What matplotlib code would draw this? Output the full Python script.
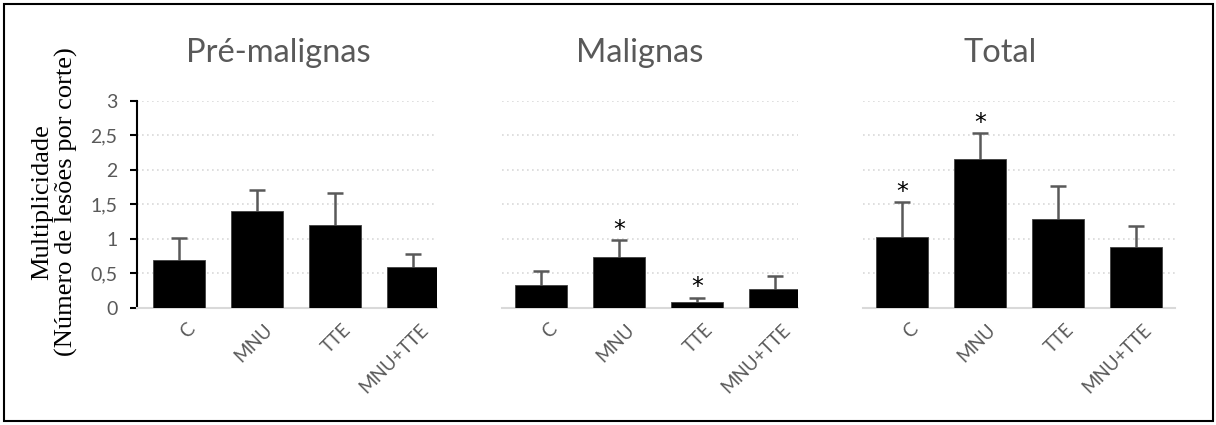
import matplotlib
matplotlib.use("Agg")
import matplotlib.pyplot as plt
import numpy as np
from matplotlib.patches import Rectangle
from matplotlib.transforms import ScaledTranslation

groups = ["C", "MNU", "TTE", "MNU+TTE"]
panel_titles = ["Pré-malignas", "Malignas", "Total"]

pre_mean = [0.70, 1.41, 1.20, 0.59]
pre_err = [0.32, 0.30, 0.47, 0.19]
mal_mean = [0.33, 0.74, 0.08, 0.28]
mal_err = [0.20, 0.24, 0.07, 0.19]
tot_mean = [1.03, 2.16, 1.29, 0.88]
tot_err = [0.50, 0.37, 0.48, 0.30]

pre_star = [False, False, False, False]
mal_star = [False, True, True, False]
tot_star = [True, True, False, False]

y_ticks = [0, 0.5, 1, 1.5, 2, 2.5, 3]
y_tick_labels = ["0", "0,5", "1", "1,5", "2", "2,5", "3"]

GREY = "#595959"
LIGHT = "#d9d9d9"
SANS = ["Lato", "DejaVu Sans"]

W, H = 1216, 425
fig = plt.figure(figsize=(W / 100, H / 100), dpi=100)

# axes boxes in pixels (left, right) plus x limits in category units
boxes = [(137, 437, -0.54, 3.31), (502, 798, -0.50, 3.30), (863, 1175, -0.50, 3.50)]
title_x = [278, 640, 1000]
bottom_px, top_px = 308, 100.7

panels = [
    (pre_mean, pre_err, pre_star),
    (mal_mean, mal_err, mal_star),
    (tot_mean, tot_err, tot_star),
]

shift = ScaledTranslation(7 / 100, 0, fig.dpi_scale_trans)

x = np.arange(len(groups))
for i, ((left, right, x0, x1), (means, errs, stars)) in enumerate(zip(boxes, panels)):
    ax = fig.add_axes([left / W, 1 - bottom_px / H, (right - left) / W, (bottom_px - top_px) / H])
    ax.set_xlim(x0, x1)
    ax.set_ylim(0, 3)
    ax.set_yticks(y_ticks)
    ax.yaxis.grid(True, linestyle=(0, (1, 2)), color=LIGHT, linewidth=1.2)
    ax.set_axisbelow(True)

    eb = ax.errorbar(x, means, yerr=[np.zeros(len(means)), errs], fmt="none",
                     ecolor=GREY, elinewidth=1.8, capsize=6, capthick=1.8, zorder=2)
    # only the upper whisker is shown
    eb[1][0].set_visible(False)
    ax.bar(x, means, width=0.67, color="black", edgecolor="#404040", linewidth=0.6, zorder=3)

    for xi, m, e, s in zip(x, means, errs, stars):
        if s:
            ax.annotate("*", (xi, m + e), xytext=(0, -1), textcoords="offset points",
                        ha="center", va="bottom", fontsize=17, color="black",
                        family="DejaVu Sans")

    for side in ("top", "right"):
        ax.spines[side].set_visible(False)
    ax.spines["bottom"].set_color(LIGHT)
    ax.spines["bottom"].set_linewidth(1.5)

    ax.set_xticks(x)
    ax.set_xticklabels(groups, rotation=45, ha="right", va="top",
                       rotation_mode="anchor", color=GREY, fontsize=13.5, family=SANS)
    ax.tick_params(axis="x", length=0, pad=9)
    for lab in ax.get_xticklabels():
        lab.set_transform(lab.get_transform() + shift)

    if i == 0:
        ax.spines["left"].set_color("black")
        ax.spines["left"].set_linewidth(1.5)
        ax.set_yticklabels(y_tick_labels, color=GREY, fontsize=14, family=SANS)
        ax.tick_params(axis="y", length=5, width=1.5, color="black", pad=9)
    else:
        ax.spines["left"].set_visible(False)
        ax.tick_params(axis="y", length=0, labelleft=False)

    fig.text(title_x[i] / W, 1 - 53 / H, panel_titles[i], ha="center", va="center",
             fontsize=23.5, color=GREY, family=SANS)

fig.text(55 / W, 1 - 202 / H, "Multiplicidade\n(Número de lesões por corte)",
         rotation=90, ha="center", va="center", multialignment="center",
         fontsize=19, family=["Liberation Serif", "DejaVu Serif"], linespacing=1.1)

fig.add_artist(Rectangle((4 / W, 4 / H), 1209 / W, 417 / H, transform=fig.transFigure,
                         fill=False, edgecolor="black", linewidth=1.5))

fig.savefig("out.png", dpi=100)
